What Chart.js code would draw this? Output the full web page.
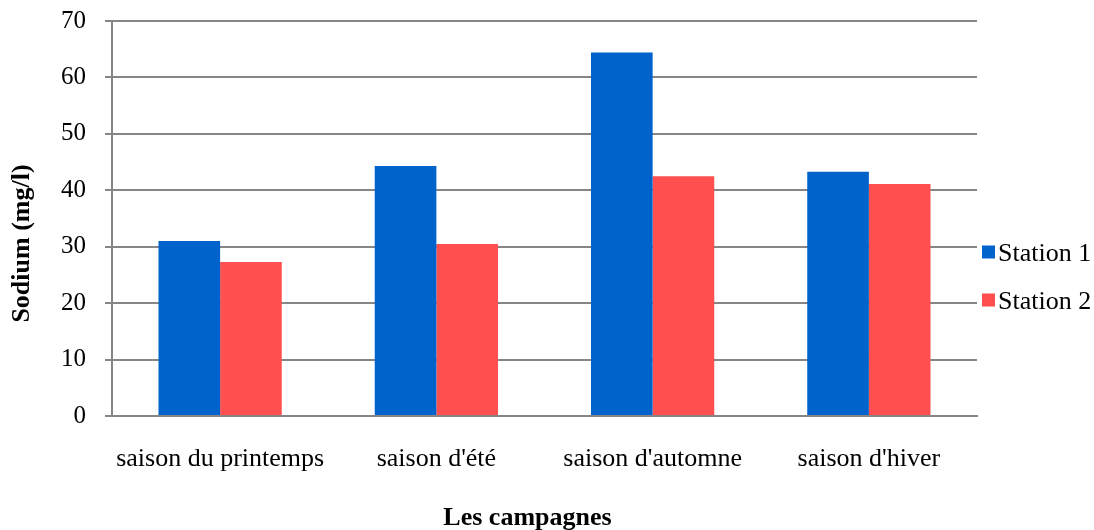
<!DOCTYPE html>
<html><head><meta charset="utf-8">
<script src="https://cdn.jsdelivr.net/npm/chart.js@4/dist/chart.umd.min.js"></script>
<style>html,body{margin:0;padding:0;background:#fff}#c{display:block}</style>
</head><body>
<canvas id="c" width="1094" height="530"></canvas>
<script>
const categories = ["saison du printemps", "saison d'été", "saison d'automne", "saison d'hiver"];
const seriesNames = ["Station 1", "Station 2"];
const station1 = [31.0, 44.3, 64.4, 43.3];
const station2 = [27.3, 30.5, 42.5, 41.1];
const yTicks = [0, 10, 20, 30, 40, 50, 60, 70];
const colors = ['#0063CB', '#FF4F4F'];
const xTitle = 'Les campagnes';
const yTitle = 'Sodium (mg/l)';

const serif = "'Liberation Serif', 'Times New Roman', serif";

const decorations = {
  id: 'decorations',
  afterDraw(chart) {
    const ctx = chart.ctx;
    const area = chart.chartArea;
    const x0 = area.right + 5;
    const midY = (area.top + area.bottom) / 2;
    const gap = 48;
    ctx.save();
    ctx.font = "26px " + serif;
    ctx.textBaseline = 'middle';
    ctx.textAlign = 'left';
    chart.data.datasets.forEach((ds, i) => {
      const cy = midY + (i - (chart.data.datasets.length - 1) / 2) * gap + 59;
      ctx.fillStyle = ds.backgroundColor;
      ctx.fillRect(x0, cy - 8, 13, 13);
      ctx.fillStyle = '#000';
      ctx.fillText(ds.label, x0 + 16, cy + 1);
    });
    // axis titles
    ctx.fillStyle = '#000';
    ctx.font = "bold 26px " + serif;
    ctx.textAlign = 'center';
    ctx.textBaseline = 'middle';
    ctx.fillText(xTitle, area.left + (area.right - area.left) / 2 - 17, 518);
    ctx.translate(22, midY + 25);
    ctx.rotate(-Math.PI / 2);
    ctx.fillText(yTitle, 0, 0);
    ctx.restore();
  }
};

new Chart(document.getElementById('c'), {
  type: 'bar',
  data: {
    labels: categories,
    datasets: [
      { label: seriesNames[0], data: station1, backgroundColor: colors[0], borderWidth: 0 },
      { label: seriesNames[1], data: station2, backgroundColor: colors[1], borderWidth: 0 }
    ]
  },
  plugins: [decorations],
  options: {
    responsive: false,
    animation: false,
    devicePixelRatio: 1,
    layout: { padding: { top: 21, right: 117, left: 0, bottom: 0 } },
    datasets: { bar: { categoryPercentage: 0.57, barPercentage: 1.0 } },
    plugins: {
      tooltip: { enabled: false },
      legend: { display: false }
    },
    scales: {
      x: {
        afterFit: (axis) => { axis.height = 114; axis.paddingLeft = 0; axis.paddingRight = 0; },
        grid: { display: false, drawTicks: false },
        border: { display: true, color: '#868686', width: 2 },
        ticks: { color: '#000', font: { family: serif, size: 26 }, padding: 28, maxRotation: 0, autoSkip: false }
      },
      y: {
        min: 0, max: 70,
        afterFit: (axis) => { axis.width = 112; axis.paddingTop = 0; axis.paddingBottom = 0; },
        afterBuildTicks: (axis) => { axis.ticks = yTicks.map(v => ({ value: v })); },
        grid: { color: '#868686', lineWidth: 2, tickLength: 7, drawTicks: true },
        border: { display: true, color: '#868686', width: 2 },
        ticks: { color: '#000', font: { family: serif, size: 25 }, padding: 19 }
      }
    }
  }
});
</script>
</body></html>
